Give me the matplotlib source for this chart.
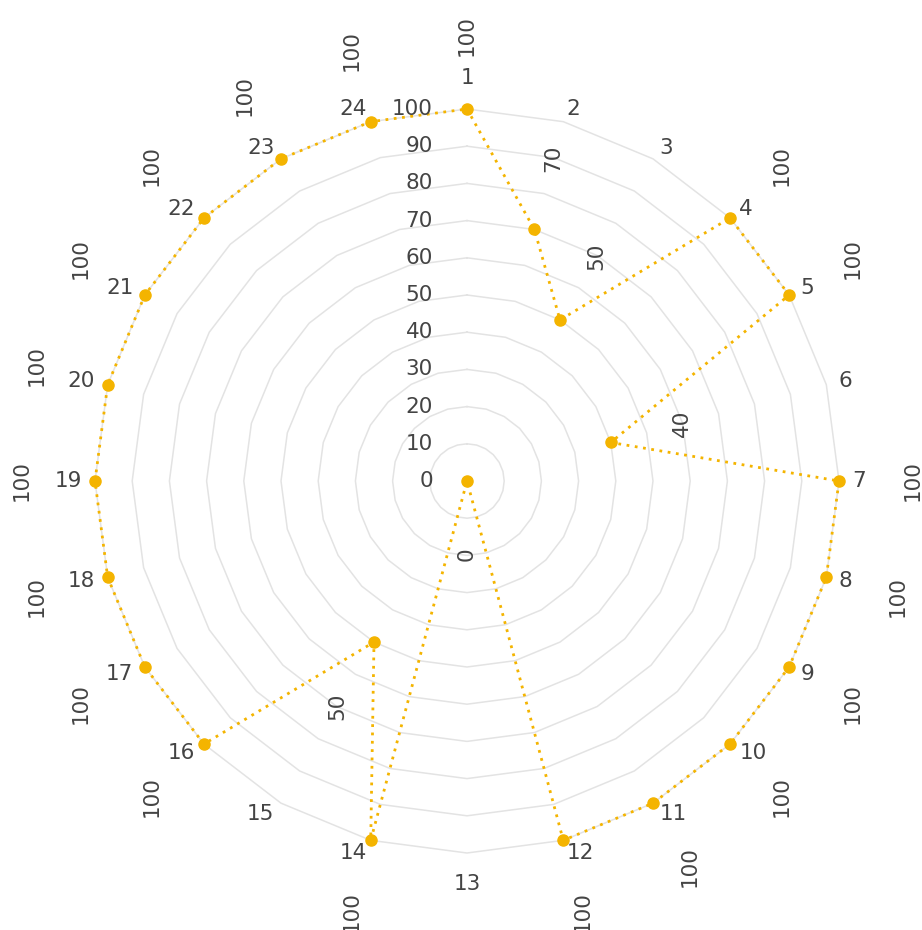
import numpy as np
import matplotlib.pyplot as plt

categories = [str(i) for i in range(1, 25)]
values = [100, 70, 50, 100, 100, 40, 100, 100, 100, 100, 100, 100,
          0, 100, 50, 100, 100, 100, 100, 100, 100, 100, 100, 100]
ring_ticks = list(range(0, 101, 10))

gold = "#F4B400"
txt = "#444444"
grid_col = "#e3e3e3"
fs = 15.5

plt.rcParams["font.family"] = "DejaVu Sans"

fig = plt.figure(figsize=(9.22, 9.30), dpi=100)
ax = fig.add_axes([95 / 922, 77 / 930, 744 / 922, 744 / 930], projection="polar")
ax.set_theta_zero_location("N")
ax.set_theta_direction(-1)
ax.set_ylim(0, 100)
ax.grid(False)
ax.spines["polar"].set_visible(False)
ax.set_xticks([])
ax.set_yticks([])

theta = np.deg2rad(np.arange(len(categories)) * 360 / len(categories))
closed = np.append(theta, theta[0])

# polygon rings
for r in ring_ticks[1:]:
    ax.plot(closed, [r] * len(closed), color=grid_col, lw=1.1, zorder=1, clip_on=False)

# series
ax.plot(closed, values + values[:1], color=gold, lw=2.0, ls=(0, (1, 2)),
        zorder=3, clip_on=False)
ax.plot(theta, values, "o", color=gold, ms=8, zorder=4, clip_on=False)

# category labels
for t, lab in zip(theta, categories):
    s, c = np.sin(t), np.cos(t)
    if abs(s) < 0.1:
        ha, d = "center", 22
    else:
        ha, d = ("left" if s > 0 else "right"), 9.4
    ax.annotate(lab, xy=(t, 100), xytext=(d * s, d * c), textcoords="offset points",
                ha=ha, va="center", fontsize=fs, color=txt, annotation_clip=False)

# value labels
for t, v in zip(theta, values):
    ax.annotate(str(v), xy=(t, v), xytext=(53 * np.sin(t), 53 * np.cos(t)),
                textcoords="offset points", ha="center", va="center", rotation=90,
                fontsize=fs, color=txt, annotation_clip=False)

# radial tick labels
for r in ring_ticks:
    ax.annotate(str(r), xy=(0, r), xytext=(-24.5, 0), textcoords="offset points",
                ha="right", va="center", fontsize=fs, color=txt, annotation_clip=False)

fig.savefig("out.png", dpi=100)
